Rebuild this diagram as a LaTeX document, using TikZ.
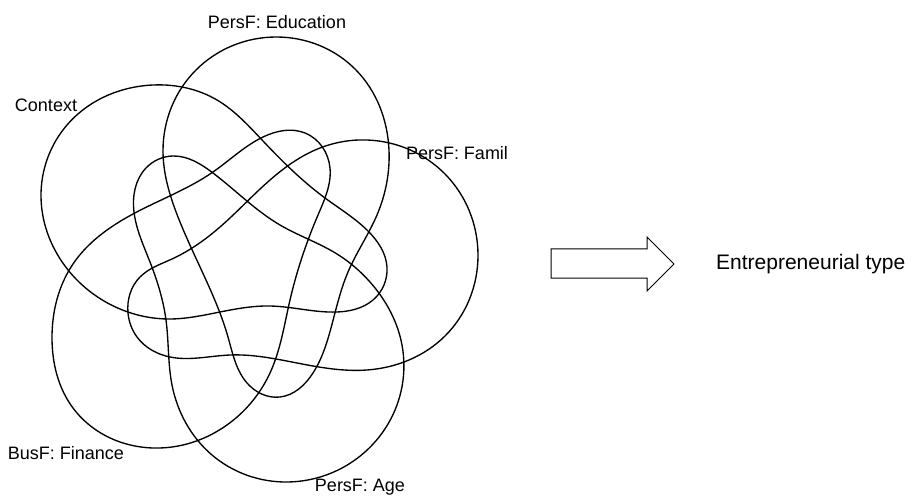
\documentclass[tikz,border=0pt]{standalone}
\usepackage{fontspec}
\setmainfont{Liberation Sans}
\usetikzlibrary{hobby}
\begin{document}
\begin{tikzpicture}[x=1pt,y=-1pt,
  setline/.style={draw=black, line width=1.35pt},
  lbl/.style={font=\fontsize{18}{20}\selectfont, inner sep=0pt},
  outlbl/.style={font=\fontsize{21}{24}\selectfont, inner sep=0pt, anchor=west}]
\useasboundingbox (0,0) rectangle (913,497);

% PersF: Education (round lobe at the top, tongue pointing down)
\draw[setline] plot[closed hobby] coordinates {
  (276,37) (356,70) (389,150) (377,215) (348,272) (331,328) (313,373)
  (280,397) (247,383) (228,337) (206,280) (178,217) (163,150) (196,70)};

% Context (round lobe at the upper left, tongue pointing right)
\draw[setline] plot[closed hobby] coordinates {
  (153,85) (217,100) (263,141) (325,198) (368,231) (387,267) (373,300)
  (337,312) (270,306) (220,312) (170,319) (120,309) (65,266) (41,196) (67,125)};

% PersF: Famil (round lobe at the right, tongue pointing left)
\draw[setline] plot[closed hobby] coordinates {
  (367,140) (445,174) (478,255) (445,336) (367,370) (297,363) (230,355)
  (170,357) (137,337) (128,313) (140,277) (172,259) (220,227) (270,180) (320,148)};

% BusF: Finance (round lobe at the lower left, tongue pointing up)
\draw[setline] plot[closed hobby] coordinates {
  (52,338) (73,408) (160,448) (231,422) (270,373) (290,300) (318,215)
  (330,168) (305,133) (263,137) (213,172) (133,214) (73,264)};

% PersF: Age (round lobe at the bottom, tongue pointing up-left)
\draw[setline] plot[closed hobby] coordinates {
  (370,282) (402,345) (388,424) (287,482) (212,455) (172,385) (166,320)
  (150,262) (134,212) (146,168) (173,156) (213,173) (280,225) (337,254)};

% Set labels
\node[lbl] (edu) at (277,22) {PersF: Education};
\node[lbl] (ctx) at (46,105) {Context};
\node[lbl] (fam) at (457,153) {PersF: Famil};
\node[lbl] (fin) at (66,453) {BusF: Finance};
\node[lbl] (age) at (360,487) {PersF: Age};

% Block arrow towards the outcome
\draw[line width=1pt] (551,249) -- (647,249) -- (647,237) -- (674,264)
  -- (647,291) -- (647,278) -- (551,278) -- cycle;
\node[outlbl] (type) at (716,264) {Entrepreneurial type};
\end{tikzpicture}
\end{document}
